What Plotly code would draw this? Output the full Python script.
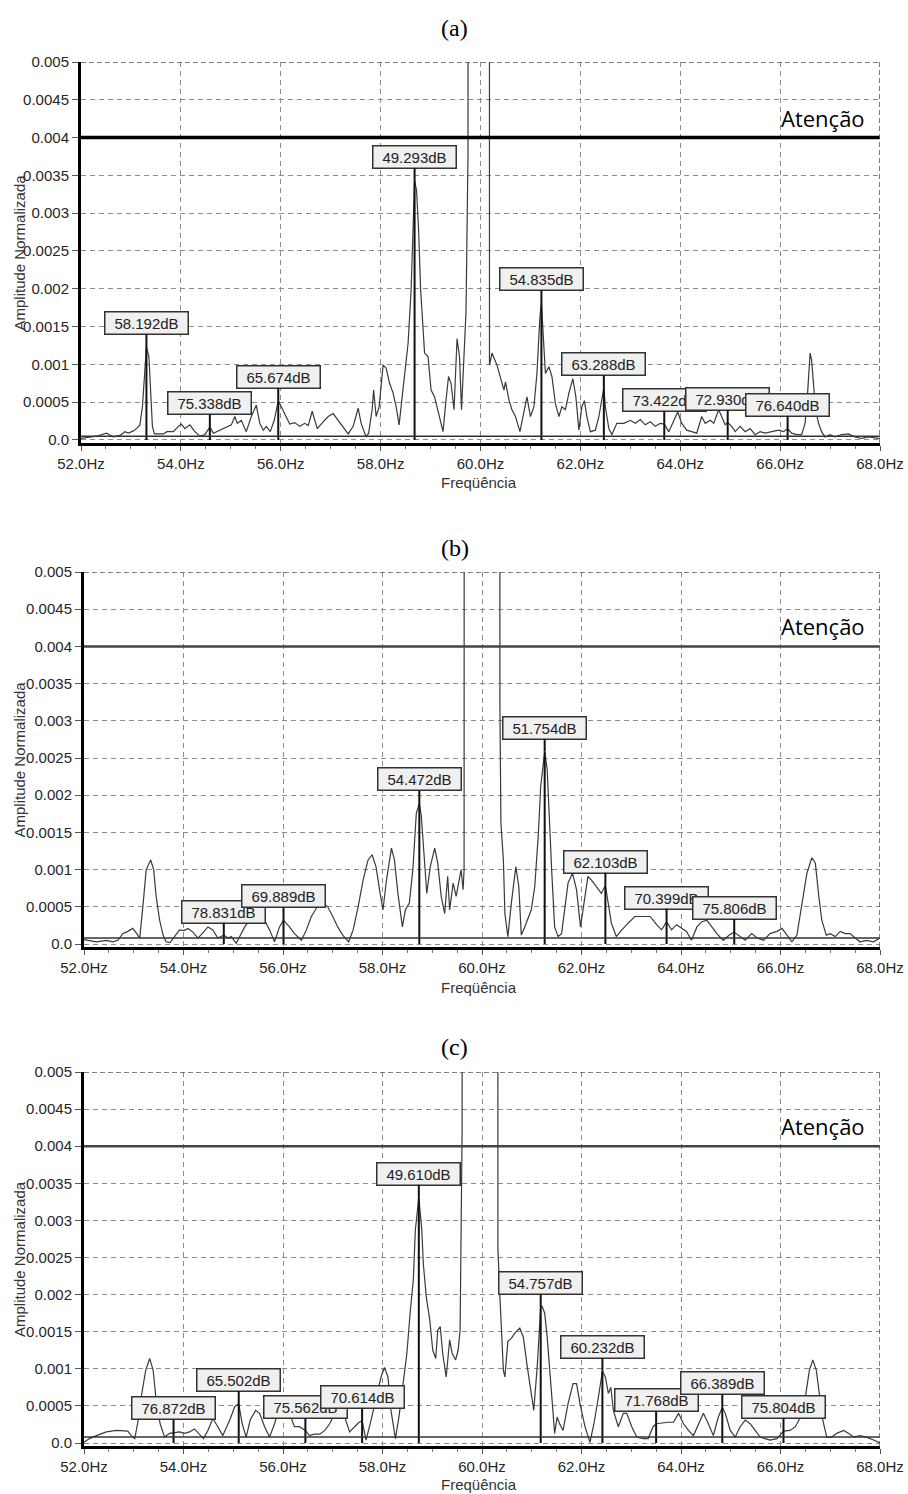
import plotly.graph_objects as go

# ---------------- spectrum (a) ----------------
freq_a = [52.00, 52.18, 52.31, 52.51, 52.65, 52.78, 52.88, 52.95, 53.05, 53.11, 53.18, 53.23, 53.27, 53.31,
          53.36, 53.39, 53.43, 53.47, 53.65, 53.72, 53.85, 53.95, 54.01, 54.08, 54.18, 54.28, 54.38, 54.48,
          54.58, 54.65, 54.78, 54.91, 55.01, 55.08, 55.13, 55.21, 55.31, 55.41, 55.51, 55.58, 55.65, 55.71,
          55.79, 55.87, 55.95, 56.01, 56.10, 56.18, 56.28, 56.38, 56.48, 56.55, 56.63, 56.73, 56.85, 56.95,
          57.05, 57.15, 57.25, 57.35, 57.45, 57.55, 57.61, 57.71, 57.76, 57.83, 57.86, 57.91, 57.97, 58.05,
          58.11, 58.18, 58.25, 58.31, 58.37, 58.41, 58.48, 58.55, 58.61, 58.65, 58.68, 58.72, 58.76, 58.80,
          58.83, 58.88, 58.95, 59.01, 59.08, 59.17, 59.25, 59.31, 59.36, 59.41, 59.47, 59.53, 59.58, 59.62,
          59.67, 59.71, 59.75, 60.00, 60.18, 60.23, 60.33, 60.40, 60.47, 60.50, 60.57, 60.63, 60.70, 60.79,
          60.87, 60.93, 61.00, 61.07, 61.13, 61.19, 61.22, 61.27, 61.30, 61.37, 61.43, 61.50, 61.57, 61.63,
          61.70, 61.77, 61.85, 61.91, 61.97, 62.03, 62.08, 62.13, 62.20, 62.30, 62.37, 62.47, 62.50, 62.57,
          62.63, 62.73, 62.87, 63.00, 63.10, 63.20, 63.30, 63.40, 63.50, 63.60, 63.68, 63.77, 63.87, 63.95,
          64.03, 64.13, 64.23, 64.33, 64.43, 64.50, 64.60, 64.67, 64.77, 64.83, 64.90, 64.95, 65.03, 65.10,
          65.20, 65.30, 65.40, 65.50, 65.60, 65.70, 65.83, 65.97, 66.07, 66.15, 66.23, 66.33, 66.43, 66.50,
          66.55, 66.60, 66.63, 66.67, 66.71, 66.77, 66.83, 66.90, 67.00, 67.10, 67.23, 67.37, 67.50, 67.63,
          67.77, 67.97, 68.00]
amp_a = [0.00002, 0.00004, 0.00005, 0.00009, 0.00004, 0.00006, 0.00011, 0.00009, 0.00012, 0.00015, 0.00020,
         0.00044, 0.00088, 0.00123, 0.00110, 0.00066, 0.00018, 0.00008, 0.00008, 0.00011, 0.00011, 0.00018,
         0.00021, 0.00015, 0.00020, 0.00011, 0.00005, 0.00007, 0.00017, 0.00009, 0.00013, 0.00016, 0.00020,
         0.00031, 0.00022, 0.00026, 0.00011, 0.00031, 0.00046, 0.00022, 0.00013, 0.00018, 0.00011, 0.00026,
         0.00052, 0.00044, 0.00031, 0.00021, 0.00023, 0.00018, 0.00022, 0.00019, 0.00038, 0.00015, 0.00024,
         0.00031, 0.00035, 0.00026, 0.00018, 0.00008, 0.00018, 0.00042, 0.00022, 0.00004, 0.00009, 0.00040,
         0.00066, 0.00031, 0.00044, 0.00099, 0.00095, 0.00075, 0.00062, 0.00044, 0.00020, 0.00044, 0.00079,
         0.00128, 0.00198, 0.00280, 0.00343, 0.00330, 0.00278, 0.00200, 0.00163, 0.00115, 0.00110, 0.00066,
         0.00057, 0.00031, 0.00011, 0.00053, 0.00084, 0.00075, 0.00040, 0.00134, 0.00110, 0.00040, 0.00106,
         0.00170, 0.00380, 1.00000, 0.00099, 0.00115, 0.00099, 0.00084, 0.00066, 0.00077, 0.00053, 0.00040,
         0.00031, 0.00011, 0.00040, 0.00057, 0.00031, 0.00044, 0.00088, 0.00163, 0.00181, 0.00119, 0.00088,
         0.00097, 0.00084, 0.00048, 0.00031, 0.00044, 0.00040, 0.00062, 0.00081, 0.00057, 0.00013, 0.00044,
         0.00052, 0.00031, 0.00011, 0.00013, 0.00031, 0.00069, 0.00044, 0.00015, 0.00007, 0.00022, 0.00022,
         0.00026, 0.00022, 0.00027, 0.00020, 0.00024, 0.00018, 0.00022, 0.00021, 0.00011, 0.00026, 0.00037,
         0.00022, 0.00013, 0.00011, 0.00009, 0.00031, 0.00022, 0.00026, 0.00022, 0.00040, 0.00031, 0.00020,
         0.00023, 0.00018, 0.00011, 0.00018, 0.00011, 0.00015, 0.00007, 0.00011, 0.00009, 0.00011, 0.00013,
         0.00011, 0.00015, 0.00009, 0.00007, 0.00007, 0.00022, 0.00062, 0.00115, 0.00106, 0.00070, 0.00040,
         0.00022, 0.00011, 0.00004, 0.00007, 0.00004, 0.00007, 0.00008, 0.00004, 0.00002, 0.00004, 0.00002,
         0.00002]
peak_freq_a = [53.31, 54.58, 55.95, 58.68, 61.22, 62.47, 63.68, 64.95, 66.15]
peak_db_a = [58.192, 75.338, 65.674, 49.293, 54.835, 63.288, 73.422, 72.930, 76.640]

# ---------------- spectrum (b) ----------------
freq_b = [52.00, 52.11, 52.25, 52.45, 52.58, 52.68, 52.78, 52.88, 52.98, 53.06, 53.12, 53.19, 53.25, 53.34,
          53.40, 53.45, 53.52, 53.59, 53.65, 53.73, 53.82, 53.92, 54.01, 54.09, 54.19, 54.29, 54.39, 54.49,
          54.59, 54.69, 54.81, 54.90, 54.96, 55.06, 55.13, 55.23, 55.33, 55.43, 55.53, 55.63, 55.73, 55.83,
          55.93, 56.01, 56.13, 56.23, 56.37, 56.47, 56.57, 56.67, 56.80, 56.90, 57.00, 57.10, 57.20, 57.32,
          57.41, 57.51, 57.61, 57.71, 57.79, 57.87, 57.94, 58.01, 58.08, 58.18, 58.24, 58.31, 58.40, 58.46,
          58.54, 58.61, 58.68, 58.74, 58.78, 58.83, 58.89, 58.96, 59.05, 59.11, 59.18, 59.25, 59.31, 59.35,
          59.42, 59.48, 59.55, 59.58, 59.62, 59.64, 60.00, 60.36, 60.38, 60.41, 60.43, 60.46, 60.52, 60.59,
          60.68, 60.74, 60.79, 60.86, 60.93, 60.99, 61.06, 61.13, 61.18, 61.26, 61.31, 61.35, 61.40, 61.46,
          61.53, 61.60, 61.66, 61.73, 61.82, 61.90, 61.98, 62.03, 62.13, 62.20, 62.30, 62.40, 62.48, 62.54,
          62.60, 62.70, 62.81, 62.94, 63.07, 63.24, 63.38, 63.51, 63.61, 63.71, 63.81, 63.91, 64.01, 64.11,
          64.21, 64.32, 64.42, 64.52, 64.62, 64.72, 64.85, 64.97, 65.07, 65.19, 65.29, 65.42, 65.53, 65.66,
          65.79, 65.93, 66.03, 66.13, 66.23, 66.33, 66.43, 66.53, 66.63, 66.70, 66.77, 66.83, 66.92, 67.00,
          67.10, 67.20, 67.30, 67.40, 67.50, 67.60, 67.73, 67.87, 68.00]
amp_b = [0.00006, 0.00005, 0.00003, 0.00005, 0.00003, 0.00005, 0.00014, 0.00017, 0.00021, 0.00014, 0.00008,
         0.00055, 0.00100, 0.00113, 0.00100, 0.00064, 0.00032, 0.00012, 0.00003, 0.00002, 0.00010, 0.00019,
         0.00018, 0.00021, 0.00016, 0.00008, 0.00015, 0.00023, 0.00019, 0.00008, 0.00012, 0.00008, 0.00010,
         0.00001, 0.00010, 0.00023, 0.00032, 0.00032, 0.00037, 0.00032, 0.00019, 0.00003, 0.00023, 0.00032,
         0.00023, 0.00014, 0.00005, 0.00019, 0.00037, 0.00048, 0.00055, 0.00050, 0.00037, 0.00023, 0.00012,
         0.00003, 0.00019, 0.00050, 0.00086, 0.00113, 0.00120, 0.00104, 0.00073, 0.00046, 0.00086, 0.00129,
         0.00113, 0.00068, 0.00023, 0.00046, 0.00055, 0.00100, 0.00176, 0.00189, 0.00172, 0.00118, 0.00068,
         0.00104, 0.00129, 0.00109, 0.00064, 0.00041, 0.00091, 0.00046, 0.00082, 0.00064, 0.00091, 0.00100,
         0.00073, 0.00100, 1.00000, 0.00320, 0.00163, 0.00127, 0.00113, 0.00041, 0.00010, 0.00055, 0.00104,
         0.00077, 0.00012, 0.00023, 0.00037, 0.00046, 0.00077, 0.00145, 0.00212, 0.00258, 0.00235, 0.00167,
         0.00100, 0.00023, 0.00010, 0.00014, 0.00046, 0.00082, 0.00095, 0.00073, 0.00023, 0.00046, 0.00091,
         0.00086, 0.00077, 0.00068, 0.00079, 0.00055, 0.00028, 0.00010, 0.00019, 0.00028, 0.00037, 0.00037,
         0.00037, 0.00026, 0.00019, 0.00030, 0.00019, 0.00026, 0.00021, 0.00017, 0.00005, 0.00023, 0.00030,
         0.00032, 0.00023, 0.00014, 0.00005, 0.00012, 0.00016, 0.00010, 0.00005, 0.00014, 0.00008, 0.00005,
         0.00014, 0.00017, 0.00021, 0.00012, 0.00003, 0.00012, 0.00055, 0.00095, 0.00116, 0.00109, 0.00064,
         0.00032, 0.00012, 0.00014, 0.00010, 0.00017, 0.00014, 0.00014, 0.00008, 0.00003, 0.00005, 0.00003,
         0.00008]
peak_freq_b = [54.81, 56.01, 58.74, 61.26, 62.48, 63.71, 65.07]
peak_db_b = [78.831, 69.889, 54.472, 51.754, 62.103, 70.399, 75.806]

# ---------------- spectrum (c) ----------------
freq_c = [52.00, 52.11, 52.25, 52.45, 52.65, 52.88, 52.95, 53.02, 53.09, 53.15, 53.24, 53.32, 53.39, 53.45,
          53.53, 53.62, 53.72, 53.80, 53.92, 54.02, 54.12, 54.22, 54.31, 54.40, 54.49, 54.59, 54.69, 54.79,
          54.93, 55.03, 55.11, 55.18, 55.26, 55.34, 55.45, 55.53, 55.63, 55.73, 55.83, 55.93, 56.03, 56.13,
          56.23, 56.33, 56.45, 56.53, 56.63, 56.74, 56.84, 56.94, 57.04, 57.14, 57.24, 57.34, 57.44, 57.53,
          57.59, 57.67, 57.77, 57.87, 57.97, 58.04, 58.11, 58.17, 58.26, 58.33, 58.41, 58.49, 58.56, 58.62,
          58.66, 58.73, 58.79, 58.82, 58.88, 58.95, 59.01, 59.07, 59.11, 59.16, 59.21, 59.28, 59.35, 59.40,
          59.47, 59.52, 59.56, 59.60, 60.00, 60.32, 60.36, 60.39, 60.43, 60.46, 60.52, 60.59, 60.66, 60.76,
          60.83, 60.91, 61.00, 61.04, 61.11, 61.15, 61.18, 61.21, 61.26, 61.31, 61.36, 61.43, 61.46, 61.51,
          61.56, 61.63, 61.73, 61.83, 61.90, 61.97, 62.07, 62.17, 62.25, 62.34, 62.42, 62.48, 62.54, 62.59,
          62.64, 62.74, 62.84, 62.91, 63.01, 63.11, 63.24, 63.34, 63.44, 63.50, 63.61, 63.74, 63.85, 63.95,
          64.05, 64.15, 64.25, 64.35, 64.45, 64.55, 64.65, 64.75, 64.83, 64.89, 64.99, 65.09, 65.19, 65.29,
          65.39, 65.49, 65.59, 65.69, 65.79, 65.93, 66.06, 66.19, 66.30, 66.40, 66.50, 66.58, 66.65, 66.72,
          66.79, 66.85, 66.93, 67.03, 67.13, 67.27, 67.37, 67.47, 67.60, 67.73, 67.87, 68.00]
amp_c = [0.00001, 0.00006, 0.00010, 0.00015, 0.00017, 0.00016, 0.00010, 0.00006, 0.00031, 0.00062, 0.00098,
         0.00114, 0.00098, 0.00058, 0.00026, 0.00008, 0.00013, 0.00014, 0.00015, 0.00013, 0.00015, 0.00019,
         0.00013, 0.00006, 0.00017, 0.00033, 0.00022, 0.00010, 0.00031, 0.00049, 0.00053, 0.00026, 0.00008,
         0.00031, 0.00044, 0.00040, 0.00022, 0.00008, 0.00026, 0.00049, 0.00053, 0.00040, 0.00022, 0.00022,
         0.00017, 0.00010, 0.00012, 0.00012, 0.00017, 0.00026, 0.00040, 0.00044, 0.00035, 0.00015, 0.00022,
         0.00028, 0.00030, 0.00004, 0.00031, 0.00062, 0.00089, 0.00102, 0.00089, 0.00044, 0.00006, 0.00035,
         0.00076, 0.00121, 0.00179, 0.00220, 0.00287, 0.00331, 0.00287, 0.00242, 0.00197, 0.00166, 0.00125,
         0.00114, 0.00152, 0.00157, 0.00121, 0.00089, 0.00139, 0.00121, 0.00112, 0.00125, 0.00152, 0.00420,
         1.00000, 0.00262, 0.00197, 0.00143, 0.00098, 0.00089, 0.00137, 0.00141, 0.00148, 0.00155, 0.00143,
         0.00103, 0.00058, 0.00044, 0.00103, 0.00143, 0.00183, 0.00184, 0.00175, 0.00143, 0.00098, 0.00031,
         0.00013, 0.00035, 0.00026, 0.00017, 0.00053, 0.00080, 0.00080, 0.00053, 0.00022, 0.00001, 0.00026,
         0.00062, 0.00097, 0.00089, 0.00067, 0.00075, 0.00044, 0.00022, 0.00040, 0.00040, 0.00022, 0.00008,
         0.00006, 0.00006, 0.00022, 0.00026, 0.00027, 0.00028, 0.00028, 0.00040, 0.00026, 0.00017, 0.00010,
         0.00026, 0.00040, 0.00026, 0.00010, 0.00035, 0.00048, 0.00040, 0.00017, 0.00008, 0.00022, 0.00031,
         0.00026, 0.00017, 0.00008, 0.00006, 0.00004, 0.00006, 0.00016, 0.00017, 0.00022, 0.00035, 0.00062,
         0.00098, 0.00112, 0.00098, 0.00062, 0.00031, 0.00008, 0.00008, 0.00013, 0.00017, 0.00013, 0.00008,
         0.00010, 0.00008, 0.00004, 0.00000]
peak_freq_c = [53.80, 55.11, 56.45, 57.59, 58.73, 61.18, 62.42, 63.50, 64.83, 66.06]
peak_db_c = [76.872, 65.502, 75.562, 70.614, 49.610, 54.757, 60.232, 71.768, 66.389, 75.804]

# ---------------- shared axis content ----------------
x_tick_vals = [52, 54, 56, 58, 60, 62, 64, 66, 68]
x_tick_text = ["52.0Hz", "54.0Hz", "56.0Hz", "58.0Hz", "60.0Hz", "62.0Hz", "64.0Hz", "66.0Hz", "68.0Hz"]
y_tick_vals = [0, 0.0005, 0.001, 0.0015, 0.002, 0.0025, 0.003, 0.0035, 0.004, 0.0045, 0.005]
y_tick_text = ["0.0", "0.0005", "0.001", "0.0015", "0.002", "0.0025", "0.003", "0.0035", "0.004",
               "0.0045", "0.005"]
alert_level = 0.004
alert_label = "Atenção"
floor_levels = [0.00005, 0.00008, 0.00008]
panel_titles = ["(a)", "(b)", "(c)"]
x_title = "Freqüência"
y_title = "Amplitude Normalizada"

panels = [
    (freq_a, amp_a, peak_freq_a, peak_db_a),
    (freq_b, amp_b, peak_freq_b, peak_db_b),
    (freq_c, amp_c, peak_freq_c, peak_db_c),
]

# ---------------- page geometry (pixels) ----------------
W, H = 908, 1494
# left, right, top, bottom of each plotting box
boxes = [(81, 880, 62, 443), (84, 880, 572, 947), (84, 880, 1072, 1446)]
title_y = [28, 548, 1047]
xlabel_y = [482, 987, 1484]
alert_style = [(3.5, "#000000"), (2.5, "#444444"), (2.5, "#444444")]

SANS = "Liberation Sans, Arial, sans-serif"
TICK_FONT = dict(family=SANS, size=15, color="#262626")

fig = go.Figure()
annotations = []
shapes = []
layout_axes = {}

for i, (freq, amp, pk_f, pk_db) in enumerate(panels):
    n = "" if i == 0 else str(i + 1)
    xr, yr = "x" + n, "y" + n
    l, r, t, b = boxes[i]

    layout_axes["xaxis" + n] = dict(
        domain=[l / W, r / W], anchor=yr, range=[52, 68],
        tickvals=x_tick_vals, ticktext=x_tick_text, tickfont=TICK_FONT,
        ticks="outside", ticklen=5, tickcolor="#555555",
        showgrid=True, gridcolor="#8c8c8c", gridwidth=1, griddash="5px,4px",
        showline=True, linecolor="#000000", linewidth=3, zeroline=False,
        minor=dict(dtick=0.5, tick0=52, ticks="outside", ticklen=3, tickcolor="#777777", showgrid=False),
        automargin=False, fixedrange=True,
    )
    layout_axes["yaxis" + n] = dict(
        domain=[1 - b / H, 1 - t / H], anchor=xr, range=[-0.00004, 0.005],
        tickvals=y_tick_vals, ticktext=y_tick_text, tickfont=TICK_FONT,
        ticks="outside", ticklen=6, tickcolor="#555555",
        showgrid=True, gridcolor="#8c8c8c", gridwidth=1, griddash="5px,4px",
        showline=True, linecolor="#000000", linewidth=3, zeroline=False,
        automargin=False, fixedrange=True,
    )

    # spectrum curve
    fig.add_trace(go.Scatter(
        x=freq, y=amp, mode="lines", xaxis=xr, yaxis=yr,
        line=dict(color="#3a3a3a", width=1.2), hoverinfo="skip", showlegend=False,
    ))

    # peak cursors: stems from the floor up to each measured amplitude
    pk_amp = [10 ** (-d / 20) for d in pk_db]
    sx, sy = [], []
    for f, a in zip(pk_f, pk_amp):
        sx += [f, f, None]
        sy += [0, a, None]
    fig.add_trace(go.Scatter(
        x=sx, y=sy, mode="lines", xaxis=xr, yaxis=yr,
        line=dict(color="#111111", width=2), hoverinfo="skip", showlegend=False,
    ))

    # noise floor and alert threshold
    shapes.append(dict(type="line", xref=xr, yref=yr, x0=52, x1=68, y0=floor_levels[i], y1=floor_levels[i],
                       line=dict(color="#333333", width=1.5)))
    lw, lc = alert_style[i]
    shapes.append(dict(type="line", xref=xr, yref=yr, x0=52, x1=68, y0=alert_level, y1=alert_level,
                       line=dict(color=lc, width=lw)))
    # dashed frame on top and right
    shapes.append(dict(type="line", xref=xr, yref=yr, x0=52, x1=68, y0=0.005, y1=0.005,
                       line=dict(color="#555555", width=1.5, dash="5px,3px")))
    shapes.append(dict(type="line", xref=xr, yref=yr, x0=68, x1=68, y0=-0.00004, y1=0.005,
                       line=dict(color="#555555", width=1.5, dash="5px,3px")))

    annotations.append(dict(
        xref="paper", yref=yr, x=867 / W, y=alert_level, xanchor="right", yanchor="bottom",
        yshift=3, text=alert_label, showarrow=False,
        font=dict(family="Open Sans, Noto Sans, sans-serif", size=22, color="#000000"),
    ))

    for f, a, d in zip(pk_f, pk_amp, pk_db):
        annotations.append(dict(
            x=f, y=a, xref=xr, yref=yr, text=f"{d:.3f}dB",
            showarrow=True, arrowhead=0, arrowwidth=2, arrowcolor="#111111", ax=0, ay=-24, standoff=0,
            font=dict(family=SANS, size=15, color="#222222"),
            bgcolor="#f0f0f0", bordercolor="#333333", borderwidth=1.5, borderpad=1, width=80, height=19,
        ))

    # panel title and axis titles
    annotations.append(dict(
        xref="paper", yref="paper", x=455 / W, y=1 - title_y[i] / H, xanchor="center", yanchor="middle",
        text=panel_titles[i], showarrow=False,
        font=dict(family="Liberation Serif, Times New Roman, serif", size=24, color="#000000"),
    ))
    annotations.append(dict(
        xref="paper", yref="paper", x=479 / W, y=1 - xlabel_y[i] / H, xanchor="center", yanchor="middle",
        text=x_title, showarrow=False, font=dict(family=SANS, size=15, color="#333333"),
    ))
    annotations.append(dict(
        xref="paper", yref="paper", x=19 / W, y=1 - ((t + b) / 2) / H, xanchor="center", yanchor="middle",
        text=y_title, textangle=-90, showarrow=False, font=dict(family=SANS, size=15, color="#333333"),
    ))

fig.update_layout(
    width=W, height=H, margin=dict(l=0, r=0, t=0, b=0),
    paper_bgcolor="#ffffff", plot_bgcolor="#ffffff",
    showlegend=False, annotations=annotations, shapes=shapes,
    **layout_axes,
)

fig.write_html("out.html")
